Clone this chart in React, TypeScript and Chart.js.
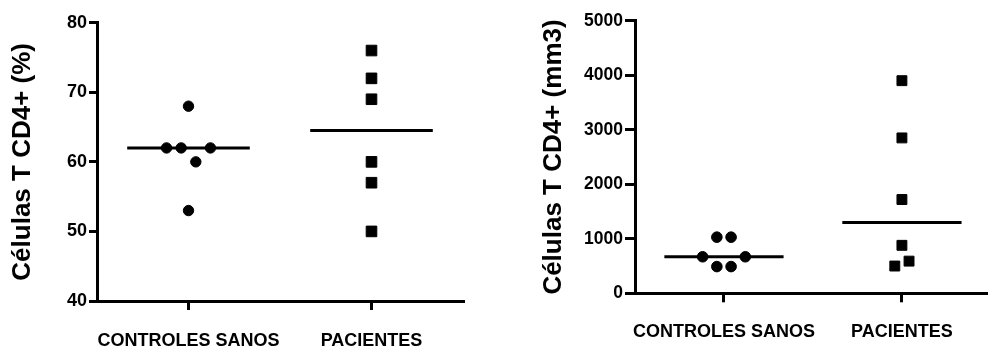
import React, { useEffect, useRef } from "react";
import { Chart, registerables } from "chart.js";

Chart.register(...registerables);

// ---------- data ----------
const categories = ["CONTROLES SANOS", "PACIENTES"];

// Panel 1: Células T CD4+ (%)
const pctTitle = "Células T CD4+ (%)";
const pctTicks = [40, 50, 60, 70, 80];
const pctControlValues = [68, 62, 62, 62, 60, 53];
const pctControlX = [1, 0.88, 0.96, 1.12, 1.04, 1];
const pctPatientValues = [76, 72, 69, 60, 57, 50];
const pctPatientX = [2, 2, 2, 2, 2, 2];
const pctMedians = [62, 64.5];

// Panel 2: Células T CD4+ (mm3)
const absTitle = "Células T CD4+ (mm3)";
const absTicks = [0, 1000, 2000, 3000, 4000, 5000];
const absControlValues = [1030, 1030, 670, 670, 490, 490];
const absControlX = [0.96, 1.04, 0.88, 1.12, 0.96, 1.04];
const absPatientValues = [3900, 2850, 1720, 880, 590, 500];
const absPatientX = [2, 2, 2, 2, 2.04, 1.96];
const absMedians = [670, 1300];

const FONT = "'Liberation Sans', Arial, Helvetica, sans-serif";
const INK = "#000";

type PanelSpec = {
  title: string;
  ticks: number[];
  controlValues: number[];
  controlX: number[];
  patientValues: number[];
  patientX: number[];
  medians: number[];
  padLeft: number;
  padTop: number;
  padRight: number;
  yWidth: number;
  xHeight: number;
  xMax: number;
  tickFont: number;
  yTickLen: number;
  yTickPad: number;
  xTickPad: number;
  titlePad: number;
  circleR: number;
  rectR: number;
};

function buildConfig(p: PanelSpec): any {
  const medianHalf = 0.335;
  const datasets: any[] = [
    ...p.medians.map((m, i) => ({
      data: [
        { x: i + 1 - medianHalf, y: m },
        { x: i + 1 + medianHalf, y: m },
      ],
      showLine: true,
      borderColor: INK,
      borderWidth: 3,
      pointRadius: 0,
      fill: false,
    })),
    {
      data: p.controlX.map((x, i) => ({ x, y: p.controlValues[i] })),
      pointStyle: "circle",
      pointRadius: p.circleR,
      backgroundColor: INK,
      borderColor: INK,
      borderWidth: 1,
    },
    {
      data: p.patientX.map((x, i) => ({ x, y: p.patientValues[i] })),
      pointStyle: "rect",
      pointRadius: p.rectR,
      backgroundColor: INK,
      borderColor: INK,
      borderWidth: 1,
    },
  ];
  const yMin = p.ticks[0];
  const yMax = p.ticks[p.ticks.length - 1];
  return {
    type: "scatter",
    data: { datasets },
    options: {
      animation: false,
      responsive: false,
      maintainAspectRatio: false,
      devicePixelRatio: 1,
      layout: { padding: { left: p.padLeft, top: p.padTop, right: p.padRight, bottom: 0 } },
      plugins: { legend: { display: false }, tooltip: { enabled: false } },
      scales: {
        x: {
          type: "linear",
          min: 0.5,
          max: p.xMax,
          afterBuildTicks: (s: any) => {
            s.ticks = categories.map((_, i) => ({ value: i + 1 }));
          },
          afterFit: (s: any) => {
            s.height = p.xHeight;
          },
          ticks: {
            callback: (_v: any, i: number) => categories[i] ?? "",
            font: { family: FONT, size: 18, weight: "bold" },
            color: INK,
            padding: p.xTickPad,
            maxRotation: 0,
            autoSkip: false,
          },
          grid: { drawOnChartArea: false, drawTicks: true, tickLength: 9, lineWidth: 3, color: INK },
          border: { display: true, width: 3, color: INK },
        },
        y: {
          type: "linear",
          min: yMin,
          max: yMax,
          afterBuildTicks: (s: any) => {
            s.ticks = p.ticks.map((v) => ({ value: v }));
          },
          afterFit: (s: any) => {
            s.width = p.yWidth;
          },
          ticks: {
            font: { family: FONT, size: p.tickFont, weight: "bold" },
            color: INK,
            padding: p.yTickPad,
            callback: (v: any) => String(v),
          },
          grid: { drawOnChartArea: false, drawTicks: true, tickLength: p.yTickLen, lineWidth: 3, color: INK },
          border: { display: true, width: 3, color: INK },
          title: {
            display: true,
            text: p.title,
            color: INK,
            font: { family: FONT, size: 26, weight: "bold" },
            padding: { top: p.titlePad, bottom: 0 },
          },
        },
      },
    },
  };
}

const leftSpec: PanelSpec = {
  title: pctTitle,
  ticks: pctTicks,
  controlValues: pctControlValues,
  controlX: pctControlX,
  patientValues: pctPatientValues,
  patientX: pctPatientX,
  medians: pctMedians,
  padLeft: 0,
  padTop: 22.7,
  padRight: 27,
  yWidth: 97,
  xHeight: 46,
  xMax: 2.5,
  tickFont: 18,
  yTickLen: 8,
  yTickPad: 2,
  xTickPad: 20,
  titlePad: 7,
  circleR: 5.2,
  rectR: 7.5,
};

const rightSpec: PanelSpec = {
  title: absTitle,
  ticks: absTicks,
  controlValues: absControlValues,
  controlX: absControlX,
  patientValues: absPatientValues,
  patientX: absPatientX,
  medians: absMedians,
  padLeft: 38,
  padTop: 20.7,
  padRight: 0,
  yWidth: 97,
  xHeight: 53.7,
  xMax: 2.4725,
  tickFont: 17.5,
  yTickLen: 10,
  yTickPad: 2,
  xTickPad: 19,
  titlePad: 0,
  circleR: 5.3,
  rectR: 7,
};

function Panel({ spec, left, width }: { spec: PanelSpec; left: number; width: number }) {
  const ref = useRef<HTMLCanvasElement | null>(null);
  useEffect(() => {
    if (!ref.current) return;
    const chart = new Chart(ref.current, buildConfig(spec));
    return () => chart.destroy();
  }, [spec]);
  return (
    <canvas
      ref={ref}
      width={width}
      height={347}
      style={{ position: "absolute", left, top: 0, width, height: 347 }}
    />
  );
}

export default function App() {
  return (
    <div
      style={{
        position: "fixed",
        left: 0,
        top: 0,
        width: 994,
        height: 347,
        background: "#fff",
        overflow: "hidden",
      }}
    >
      <Panel spec={leftSpec} left={0} width={490} />
      <Panel spec={rightSpec} left={500} width={494} />
    </div>
  );
}
